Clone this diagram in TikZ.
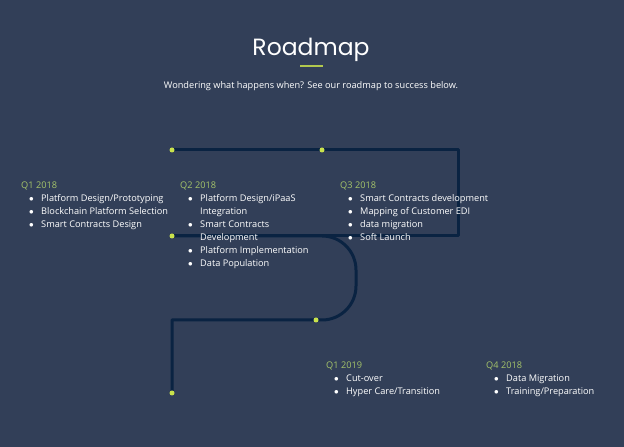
\documentclass[tikz,border=0pt]{standalone}
\usepackage{fontspec}
\setmainfont{Open Sans}
\newfontfamily\titlefont{Poppins}
\usepackage{tikz}
\usetikzlibrary{positioning,calc}
\definecolor{bgblue}{HTML}{323F58}
\definecolor{trackblue}{HTML}{0A2342}
\definecolor{dotgreen}{HTML}{C9E24C}
\definecolor{qgreen}{HTML}{A5C46A}
\tikzset{
  track/.style={draw=trackblue, line width=3pt, line join=round},
  milestone/.style={circle, fill=dotgreen, inner sep=0pt, minimum size=5pt},
  phase/.style={anchor=north west, inner sep=0pt, text=white,
                font=\fontsize{9.2}{13}\selectfont},
  headline/.style={inner sep=0pt, text=white}
}
\newcommand{\qhead}[1]{\multicolumn{3}{@{}l@{}}{\color{qgreen}#1}}
\newcommand{\qitem}[1]{& \hspace{-1.2pt}$\bullet$ & #1}

\begin{document}
\begin{tikzpicture}[x=1pt,y=1pt]
    % Background
    \fill [bgblue] (0,0) rectangle (624,447);
    \useasboundingbox (0,0) rectangle (624,447);
    % Title
    \node (title) [headline, anchor=base, font=\titlefont\fontsize{23.5}{28}\selectfont] at (311,391) {Roadmap};
    \draw [dotgreen!85!bgblue, line width=1.3pt] (300,381) -- (323,381);
    \node (subtitle) [headline, anchor=base, font=\fontsize{9.2}{11}\selectfont] at (311,358)
          {Wondering what happens when? See our roadmap to success below.};
    % Draw track
    \coordinate (start) at (172,297);
    \coordinate (turnA) at (458,297);
    \coordinate (turnB) at (458,211);
    \coordinate (midleft) at (172,211);
    \coordinate (bendtop) at (322,211);
    \coordinate (lowleft) at (172,127);
    \coordinate (finish) at (172,54);
    \draw [track] (start) -- (turnA) -- (turnB) -- (midleft);
    \draw [track] (midleft) -- (bendtop) arc [start angle=90, end angle=0, radius=34]
          -- ++(0,-16) arc [start angle=0, end angle=-90, radius=34]
          -- (lowleft) -- (finish);
    % Milestones
    \node (m1) [milestone] at (start) {};
    \node (m2) [milestone] at (322,297) {};
    \node (m3) [milestone] at (midleft) {};
    \node (m4) [milestone] at (316,127) {};
    \node (m5) [milestone] at (finish) {};
    % Phases
    \node (q1a) [phase] at (21,268) {\begin{tabular}{@{}p{9pt}@{}p{11pt}@{}l@{}}
        \qhead{Q1 2018}\\
        \qitem{Platform Design/Prototyping}\\
        \qitem{Blockchain Platform Selection}\\
        \qitem{Smart Contracts Design}
      \end{tabular}};
    \node (q2a) [phase] at (180,268) {\begin{tabular}{@{}p{9pt}@{}p{11pt}@{}l@{}}
        \qhead{Q2 2018}\\
        \qitem{Platform Design/iPaaS}\\
        & & Integration\\
        \qitem{Smart Contracts}\\
        & & Development\\
        \qitem{Platform Implementation}\\
        \qitem{Data Population}
      \end{tabular}};
    \node (q3a) [phase] at (340,268) {\begin{tabular}{@{}p{9pt}@{}p{11pt}@{}l@{}}
        \qhead{Q3 2018}\\
        \qitem{Smart Contracts development}\\
        \qitem{Mapping of Customer EDI}\\
        \qitem{data migration}\\
        \qitem{Soft Launch}
      \end{tabular}};
    \node (q1b) [phase] at (326,88) {\begin{tabular}{@{}p{9pt}@{}p{11pt}@{}l@{}}
        \qhead{Q1 2019}\\
        \qitem{Cut-over}\\
        \qitem{Hyper Care/Transition}
      \end{tabular}};
    \node (q4a) [phase] at (486,88) {\begin{tabular}{@{}p{9pt}@{}p{11pt}@{}l@{}}
        \qhead{Q4 2018}\\
        \qitem{Data Migration}\\
        \qitem{Training/Preparation}
      \end{tabular}};
\end{tikzpicture}
\end{document}
